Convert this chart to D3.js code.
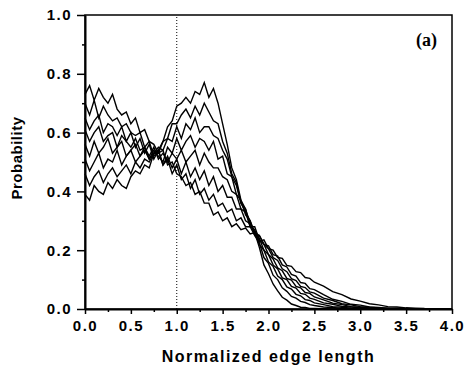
<!DOCTYPE html>
<html>
<head>
<meta charset="utf-8">
<script src="https://cdn.jsdelivr.net/npm/d3@7"></script>
<style>
  body { margin: 0; background: #fff; }
  svg { display: block; }
  .sans { font-family: "Liberation Sans", Arial, sans-serif; }
</style>
</head>
<body>
<div id="root"></div>
<script>
// x positions of the sampled points (normalized edge length)
const xs = [0.00,0.05,0.10,0.15,0.20,0.25,0.30,0.35,0.40,0.45,
  0.50,0.55,0.60,0.65,0.70,0.75,0.80,0.85,0.90,0.95,
  1.00,1.05,1.10,1.15,1.20,1.25,1.30,1.35,1.40,1.45,
  1.50,1.55,1.60,1.65,1.70,1.75,1.80,1.85,1.90,1.95,
  2.00,2.05,2.10,2.15,2.20,2.25,2.30,2.35,2.40,2.45,
  2.50,
  2.6,2.7,2.8,2.9,3.0,3.1,3.2,3.3,3.4,3.5,3.6,3.7,3.8,3.9,4.0];

// probability curves (low start / high peak -> high start / low peak)
const s1 = [0.39,0.37,0.42,0.40,0.39,0.43,0.41,0.44,0.42,0.41,
  0.45,0.47,0.46,0.49,0.48,0.53,0.54,0.57,0.62,0.64,
  0.69,0.70,0.72,0.70,0.74,0.73,0.77,0.72,0.75,0.70,
  0.63,0.56,0.48,0.44,0.37,0.34,0.29,0.26,0.21,0.15,
  0.12,0.085,0.062,0.04,0.03,0.017,0.012,0.006,0.005,0.002,
  0.002,
  0.001,0.0005,0.0003,0,0,0,0,0,0,0,0,0,0,0,0];
const s2 = [0.46,0.42,0.45,0.47,0.43,0.46,0.48,0.45,0.47,0.49,
  0.46,0.50,0.48,0.51,0.50,0.53,0.53,0.57,0.58,0.63,
  0.63,0.66,0.68,0.65,0.69,0.66,0.70,0.67,0.64,0.63,
  0.57,0.53,0.46,0.43,0.36,0.33,0.30,0.25,0.225,0.175,
  0.155,0.115,0.10,0.072,0.06,0.043,0.037,0.026,0.022,0.015,
  0.012,
  0.007,0.005,0.002,0.0015,0.0006,0.0004,0.0002,0,0,0,0,0,0,0,0];
const s3 = [0.51,0.47,0.50,0.53,0.48,0.51,0.50,0.54,0.49,0.52,
  0.54,0.50,0.52,0.55,0.51,0.53,0.55,0.54,0.58,0.57,
  0.62,0.58,0.63,0.61,0.65,0.60,0.62,0.62,0.59,0.58,
  0.54,0.51,0.45,0.42,0.36,0.34,0.28,0.27,0.22,0.20,
  0.16,0.145,0.112,0.10,0.075,0.068,0.05,0.045,0.032,0.029,
  0.021,
  0.015,0.008,0.006,0.003,0.002,0.001,0.0006,0.0003,0.0002,0,0,0,0,0,0];
const s4 = [0.56,0.52,0.57,0.53,0.55,0.58,0.53,0.55,0.57,0.52,
  0.54,0.56,0.52,0.54,0.51,0.54,0.52,0.50,0.55,0.53,
  0.58,0.54,0.57,0.59,0.55,0.58,0.57,0.54,0.57,0.51,
  0.52,0.46,0.45,0.39,0.37,0.32,0.30,0.26,0.24,0.20,
  0.185,0.15,0.136,0.106,0.10,0.077,0.071,0.053,0.05,0.037,
  0.033,
  0.021,0.016,0.009,0.007,0.004,0.003,0.0015,0.001,0.0006,0.0004,0.0002,0.0001,0,0,0];
const s5 = [0.61,0.57,0.60,0.62,0.57,0.59,0.60,0.55,0.59,0.57,
  0.55,0.58,0.54,0.55,0.52,0.55,0.51,0.53,0.50,0.53,
  0.51,0.54,0.50,0.52,0.54,0.49,0.53,0.50,0.48,0.48,
  0.45,0.44,0.40,0.39,0.34,0.33,0.28,0.28,0.235,0.22,
  0.185,0.17,0.14,0.13,0.104,0.098,0.077,0.072,0.056,0.053,
  0.041,
  0.031,0.020,0.015,0.008,0.006,0.0035,0.0025,0.0014,0.001,0.0006,0.0004,0.0002,0.0001,0,0];
const s6 = [0.65,0.61,0.64,0.66,0.60,0.63,0.62,0.59,0.62,0.57,
  0.60,0.55,0.58,0.53,0.56,0.51,0.54,0.49,0.52,0.48,
  0.51,0.46,0.50,0.45,0.48,0.44,0.47,0.42,0.45,0.40,
  0.42,0.38,0.38,0.34,0.34,0.30,0.29,0.26,0.25,0.22,
  0.205,0.175,0.165,0.137,0.127,0.103,0.097,0.077,0.073,0.058,
  0.054,
  0.037,0.029,0.018,0.014,0.008,0.0065,0.0035,0.0027,0.0014,0.001,0.0006,0.0004,0.0002,0.0001,0];
const s7 = [0.70,0.66,0.71,0.65,0.69,0.66,0.64,0.65,0.62,0.63,
  0.60,0.59,0.60,0.55,0.57,0.52,0.54,0.49,0.51,0.46,
  0.49,0.44,0.46,0.41,0.44,0.39,0.41,0.37,0.39,0.35,
  0.36,0.33,0.34,0.30,0.31,0.28,0.28,0.25,0.25,0.22,
  0.215,0.185,0.18,0.15,0.143,0.118,0.112,0.09,0.087,0.069,
  0.066,
  0.049,0.033,0.026,0.016,0.013,0.007,0.0055,0.003,0.0025,0.0013,0.001,0.0006,0.0004,0.0002,0.0001];
const s8 = [0.73,0.76,0.71,0.75,0.72,0.70,0.73,0.68,0.66,0.67,
  0.63,0.65,0.60,0.61,0.57,0.56,0.53,0.54,0.49,0.50,
  0.46,0.45,0.42,0.43,0.39,0.40,0.36,0.36,0.32,0.33,
  0.30,0.31,0.28,0.29,0.27,0.275,0.255,0.26,0.23,0.235,
  0.205,0.20,0.175,0.172,0.148,0.145,0.127,0.124,0.107,0.104,
  0.091,
  0.078,0.059,0.049,0.034,0.027,0.018,0.014,0.008,0.007,0.004,0.003,0.0015,0.0012,0.0005,0.0003];

const series = [s1, s2, s3, s4, s5, s6, s7, s8];

const xTicks = [0, 0.5, 1, 1.5, 2, 2.5, 3, 3.5, 4];
const xMinor = [0.25, 0.75, 1.25, 1.75, 2.25, 2.75, 3.25, 3.75];
const yTicks = [0, 0.2, 0.4, 0.6, 0.8, 1.0];
const yMinor = [0.1, 0.3, 0.5, 0.7, 0.9];
const markerX = 1.0;

const W = 471, H = 372;
const margin = { top: 15, right: 19, bottom: 63, left: 85 };
const width = W - margin.left - margin.right;
const height = H - margin.top - margin.bottom;

const svg = d3.select("#root")
  .append("svg")
  .attr("width", W)
  .attr("height", H);

const g = svg.append("g")
  .attr("transform", `translate(${margin.left},${margin.top})`);

const x = d3.scaleLinear().domain([0, 4]).range([0, width]);
const y = d3.scaleLinear().domain([0, 1]).range([height, 0]);

// curves
const line = d3.line()
  .x((d, i) => x(xs[i]))
  .y((d) => y(d));

g.append("g")
  .selectAll("path")
  .data(series)
  .join("path")
  .attr("d", line)
  .attr("fill", "none")
  .attr("stroke", "#000")
  .attr("stroke-width", 1.4)
  .attr("stroke-linejoin", "miter");

// dotted reference line
g.append("line")
  .attr("x1", x(markerX)).attr("x2", x(markerX))
  .attr("y1", y(0)).attr("y2", y(1))
  .attr("stroke", "#000")
  .attr("stroke-width", 1)
  .attr("stroke-dasharray", "1,2");

// frame
g.append("rect")
  .attr("x", 0).attr("y", 0)
  .attr("width", width).attr("height", height)
  .attr("fill", "none")
  .attr("stroke", "#000")
  .attr("stroke-width", 1.5);

// axes
g.append("g")
  .attr("transform", `translate(0,${height})`)
  .call(d3.axisBottom(x).tickValues(xTicks).tickFormat(d3.format(".1f")).tickSize(5).tickSizeOuter(0).tickPadding(6));
g.append("g")
  .attr("transform", `translate(0,${height})`)
  .call(d3.axisBottom(x).tickValues(xMinor).tickFormat("").tickSize(3).tickSizeOuter(0))
  .select(".domain").remove();

g.append("g")
  .call(d3.axisLeft(y).tickValues(yTicks).tickFormat(d3.format(".1f")).tickSize(8).tickSizeOuter(0).tickPadding(5));
g.append("g")
  .call(d3.axisLeft(y).tickValues(yMinor).tickFormat("").tickSize(3).tickSizeOuter(0))
  .select(".domain").remove();

g.selectAll(".domain").attr("stroke-width", 2);
g.selectAll(".tick line").attr("stroke-width", 1.5);
g.selectAll(".tick text")
  .attr("class", "sans")
  .attr("font-family", null)
  .attr("fill", "#000")
  .style("font-size", "15px")
  .style("font-weight", "bold")
  .style("letter-spacing", "1.5px");

// axis titles
svg.append("text")
  .attr("class", "sans")
  .attr("x", margin.left + width / 2)
  .attr("y", 362)
  .attr("text-anchor", "middle")
  .style("font-size", "16px")
  .style("letter-spacing", "1.5px")
  .style("font-weight", "bold")
  .text("Normalized edge length");

svg.append("text")
  .attr("class", "sans")
  .attr("transform", `translate(22,${margin.top + height / 2 - 4}) rotate(-90)`)
  .attr("text-anchor", "middle")
  .style("font-size", "15px")
  .style("font-weight", "bold")
  .style("letter-spacing", "0.5px")
  .text("Probability");

// panel label
svg.append("text")
  .attr("x", 437)
  .attr("y", 46)
  .attr("text-anchor", "end")
  .attr("font-family", "'Liberation Serif', 'Times New Roman', serif")
  .style("font-size", "18px")
  .style("font-weight", "bold")
  .text("(a)");
</script>
</body>
</html>
